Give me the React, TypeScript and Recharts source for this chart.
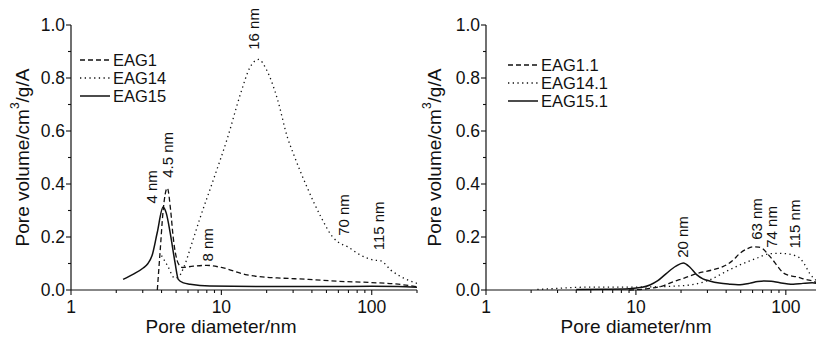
import React from 'react'
import { LineChart, Line, XAxis, YAxis, ReferenceDot, Legend } from 'recharts'

const FONT = '"Liberation Sans", Arial, sans-serif'
const INK = '#111'

// left panel: pore size distributions (d in nm, v in cm3/g/A)
const eag1 = [
  { d: 3.75, v: 0 }, { d: 3.92, v: 0.15 }, { d: 4.1, v: 0.3 }, { d: 4.37, v: 0.385 },
  { d: 4.6, v: 0.3 }, { d: 4.78, v: 0.2 }, { d: 5.17, v: 0.1 }, { d: 5.5, v: 0.085 },
  { d: 6.5, v: 0.09 }, { d: 8, v: 0.093 }, { d: 10, v: 0.085 }, { d: 14.8, v: 0.057 },
  { d: 20, v: 0.048 }, { d: 24.7, v: 0.045 }, { d: 38, v: 0.04 }, { d: 60, v: 0.033 },
  { d: 100, v: 0.028 }, { d: 150, v: 0.022 }, { d: 200, v: 0.012 }
]
const eag14 = [
  { d: 4.0, v: 0.13 }, { d: 4.4, v: 0.09 }, { d: 4.9, v: 0.045 }, { d: 5.2, v: 0.05 },
  { d: 5.6, v: 0.083 }, { d: 6.4, v: 0.18 }, { d: 7.2, v: 0.27 }, { d: 8.9, v: 0.42 },
  { d: 11, v: 0.575 }, { d: 13.4, v: 0.74 }, { d: 15.5, v: 0.84 }, { d: 17.7, v: 0.87 },
  { d: 20, v: 0.83 }, { d: 23.6, v: 0.72 }, { d: 27.5, v: 0.576 }, { d: 30, v: 0.517 },
  { d: 37, v: 0.39 }, { d: 46, v: 0.275 }, { d: 55, v: 0.2 }, { d: 60, v: 0.18 },
  { d: 69, v: 0.163 }, { d: 84, v: 0.132 }, { d: 103, v: 0.113 }, { d: 115, v: 0.11 },
  { d: 134, v: 0.075 }, { d: 163, v: 0.045 }, { d: 200, v: 0.025 }
]
const eag15 = [
  { d: 2.22, v: 0.04 }, { d: 2.6, v: 0.06 }, { d: 3.02, v: 0.083 }, { d: 3.25, v: 0.1 },
  { d: 3.46, v: 0.13 }, { d: 3.74, v: 0.215 }, { d: 4.1, v: 0.313 }, { d: 4.3, v: 0.29 },
  { d: 4.57, v: 0.215 }, { d: 4.93, v: 0.1 }, { d: 5.17, v: 0.04 }, { d: 5.6, v: 0.027 },
  { d: 6.2, v: 0.022 }, { d: 8.4, v: 0.015 }, { d: 20, v: 0.013 }, { d: 50, v: 0.013 },
  { d: 100, v: 0.014 }, { d: 150, v: 0.013 }, { d: 200, v: 0.01 }
]

// right panel
const eag1_1 = [
  { d: 9, v: 0 }, { d: 12, v: 0.005 }, { d: 15, v: 0.015 }, { d: 17.7, v: 0.031 },
  { d: 21, v: 0.045 }, { d: 25.4, v: 0.062 }, { d: 32, v: 0.075 }, { d: 38, v: 0.088 },
  { d: 44, v: 0.11 }, { d: 49.3, v: 0.138 }, { d: 55, v: 0.155 }, { d: 60.5, v: 0.163 },
  { d: 66, v: 0.162 }, { d: 70.5, v: 0.155 }, { d: 76, v: 0.135 }, { d: 82, v: 0.113 },
  { d: 88, v: 0.09 }, { d: 96, v: 0.065 }, { d: 105, v: 0.055 }, { d: 117, v: 0.05 },
  { d: 135, v: 0.04 }, { d: 160, v: 0.028 }, { d: 177, v: 0.01 }
]
const eag14_1 = [
  { d: 2.2, v: 0.002 }, { d: 3, v: 0.006 }, { d: 4, v: 0.01 }, { d: 6, v: 0.011 },
  { d: 9.5, v: 0.011 }, { d: 13, v: 0.012 }, { d: 17, v: 0.014 }, { d: 23, v: 0.019 },
  { d: 30, v: 0.035 }, { d: 42, v: 0.076 }, { d: 52, v: 0.1 }, { d: 64, v: 0.12 },
  { d: 78, v: 0.137 }, { d: 90, v: 0.138 }, { d: 101, v: 0.137 }, { d: 115, v: 0.13 },
  { d: 123, v: 0.122 }, { d: 134, v: 0.095 }, { d: 144, v: 0.063 }, { d: 160, v: 0.035 },
  { d: 177, v: 0.015 }
]
const eag15_1 = [
  { d: 4, v: 0.002 }, { d: 6, v: 0.003 }, { d: 9, v: 0.005 }, { d: 11, v: 0.01 },
  { d: 12.4, v: 0.019 }, { d: 14, v: 0.035 }, { d: 16, v: 0.063 }, { d: 18.5, v: 0.09 },
  { d: 20.7, v: 0.102 }, { d: 23, v: 0.085 }, { d: 25.4, v: 0.058 }, { d: 28, v: 0.042 },
  { d: 31, v: 0.034 }, { d: 36, v: 0.026 }, { d: 42, v: 0.022 }, { d: 48, v: 0.02 },
  { d: 57, v: 0.025 }, { d: 65, v: 0.032 }, { d: 72, v: 0.034 }, { d: 80, v: 0.033 },
  { d: 90, v: 0.028 }, { d: 112, v: 0.022 }, { d: 130, v: 0.025 }, { d: 150, v: 0.027 },
  { d: 177, v: 0.018 }
]

// peak labels (centre of the rotated text)
const leftNotes = [
  { d: 3.41, v: 0.389, text: '4 nm' },
  { d: 4.37, v: 0.51, text: '4.5 nm' },
  { d: 8.07, v: 0.17, text: '8 nm' },
  { d: 16.3, v: 0.985, text: '16 nm' },
  { d: 65, v: 0.283, text: '70 nm' },
  { d: 111, v: 0.242, text: '115 nm' }
]
const rightNotes = [
  { d: 20.6, v: 0.2, text: '20 nm' },
  { d: 64, v: 0.268, text: '63 nm' },
  { d: 80.6, v: 0.238, text: '74 nm' },
  { d: 115, v: 0.249, text: '115 nm' }
]

const leftNames = ['EAG1', 'EAG14', 'EAG15']
const rightNames = ['EAG1.1', 'EAG14.1', 'EAG15.1']
const dashes = ['5 3', '1.3 3.4', undefined]

const yTicks = [0, 0.1, 0.2, 0.3, 0.4, 0.5, 0.6, 0.7, 0.8, 0.9, 1.0]
const majorX = [1, 10, 100]
const xTicksLeft = [1, 2, 3, 4, 5, 6, 7, 8, 9, 10, 20, 30, 40, 50, 60, 70, 80, 90, 100, 200]
const xTicksRight = [1, 2, 3, 4, 5, 6, 7, 8, 9, 10, 20, 30, 40, 50, 60, 70, 80, 90, 100]

const XTick = (props: any) => {
  const { x, y, payload } = props
  const major = majorX.includes(payload.value)
  return (
    <g>
      <line x1={x} x2={x} y1={y} y2={y + (major ? 5 : 3)} stroke={INK} strokeWidth={1.1} />
      {major && (
        <text x={x} y={y + 23} textAnchor='middle' fontSize={17.5} fontFamily={FONT} fill={INK}>
          {payload.value}
        </text>
      )}
    </g>
  )
}

const YTick = (props: any) => {
  const { x, y, payload } = props
  const major = Math.round(payload.value * 10) % 2 === 0
  return (
    <g>
      <line x1={x} x2={x - (major ? 5 : 3)} y1={y} y2={y} stroke={INK} strokeWidth={1.1} />
      {major && (
        <text x={x - 6} y={y + 6} textAnchor='end' fontSize={17.5} fontFamily={FONT} fill={INK}>
          {payload.value.toFixed(1)}
        </text>
      )}
    </g>
  )
}

const YTitle = ({ viewBox }: any) => {
  const cx = viewBox.x + 14
  const cy = viewBox.y + viewBox.height / 2
  return (
    <text
      transform={`translate(${cx},${cy}) rotate(-90)`}
      textAnchor='middle'
      dominantBaseline='central'
      fontSize={19}
      fontFamily={FONT}
      fill={INK}
    >
      Pore volume/cm<tspan dy={-7} fontSize={12}>3</tspan>
      <tspan dy={7}>/g/A</tspan>
    </text>
  )
}

const XTitle = ({ viewBox }: any) => (
  <text
    x={viewBox.x + 150}
    y={viewBox.y + 43}
    textAnchor='middle'
    fontSize={19}
    fontFamily={FONT}
    fill={INK}
  >
    Pore diameter/nm
  </text>
)

const Note = ({ viewBox, text }: any) => {
  const { x, y } = viewBox
  return (
    <text
      transform={`translate(${x},${y}) rotate(-90)`}
      textAnchor='middle'
      dominantBaseline='central'
      fontSize={15}
      fontFamily={FONT}
      fill={INK}
    >
      {text}
    </text>
  )
}

const legendBox = (names: string[]) => () => (
  <svg width={140} height={60} style={{ display: 'block' }}>
    {names.map((n, i) => {
      const cy = 9 + i * 18
      return (
        <g key={n}>
          <line
            x1={2}
            x2={32}
            y1={cy}
            y2={cy}
            stroke={INK}
            strokeWidth={dashes[i] ? 1.3 : 1.5}
            strokeDasharray={dashes[i]}
          />
          <text x={35} y={cy + 6} fontSize={16.5} fontFamily={FONT} fill={INK}>
            {n}
          </text>
        </g>
      )
    })}
  </svg>
)

interface PanelProps {
  width: number
  axisWidth: number
  rightMargin: number
  domainMax: number
  xTicks: number[]
  series: { d: number; v: number }[][]
  names: string[]
  notes: { d: number; v: number; text: string }[]
  legendLeft: number
  legendTop: number
}

const Panel: React.FC<PanelProps> = ({
  width, axisWidth, rightMargin, domainMax, xTicks, series, names, notes, legendLeft, legendTop
}) => (
  <LineChart width={width} height={330} margin={{ top: 17, right: rightMargin, bottom: 0, left: 0 }}>
    <XAxis
      dataKey='d'
      type='number'
      scale='log'
      domain={[1, domainMax]}
      allowDataOverflow
      ticks={xTicks}
      interval={0}
      tickSize={0}
      tickMargin={0}
      tickLine={false}
      tick={<XTick />}
      height={48}
      stroke={INK}
      strokeWidth={1.2}
      label={<XTitle />}
    />
    <YAxis
      type='number'
      domain={[0, 1]}
      ticks={yTicks}
      interval={0}
      tickSize={0}
      tickMargin={0}
      tickLine={false}
      tick={<YTick />}
      width={axisWidth}
      stroke={INK}
      strokeWidth={1.2}
      label={<YTitle />}
    />
    <Legend
      layout='vertical'
      align='center'
      verticalAlign='middle'
      content={legendBox(names)}
      wrapperStyle={{ left: legendLeft, top: legendTop, width: 140 }}
    />
    {series.map((s, i) => (
      <Line
        key={names[i]}
        data={s}
        dataKey='v'
        name={names[i]}
        type='monotone'
        stroke={INK}
        strokeWidth={dashes[i] ? 1.3 : 1.5}
        strokeDasharray={dashes[i]}
        dot={false}
        activeDot={false}
        isAnimationActive={false}
      />
    ))}
    {notes.map((n) => (
      <ReferenceDot
        key={n.text + n.d}
        x={n.d}
        y={n.v}
        r={0}
        fill='none'
        stroke='none'
        label={<Note text={n.text} />}
      />
    ))}
  </LineChart>
)

export default function App() {
  return (
    <div style={{ display: 'flex', width: 816, background: '#fff' }}>
      <Panel
        width={412}
        axisWidth={63}
        rightMargin={3}
        domainMax={200}
        xTicks={xTicksLeft}
        series={[eag1, eag14, eag15]}
        names={leftNames}
        notes={leftNotes}
        legendLeft={70}
        legendTop={43}
      />
      <Panel
        width={404}
        axisWidth={66}
        rightMargin={1}
        domainMax={177}
        xTicks={xTicksRight}
        series={[eag1_1, eag14_1, eag15_1]}
        names={rightNames}
        notes={rightNotes}
        legendLeft={86}
        legendTop={48}
      />
    </div>
  )
}
